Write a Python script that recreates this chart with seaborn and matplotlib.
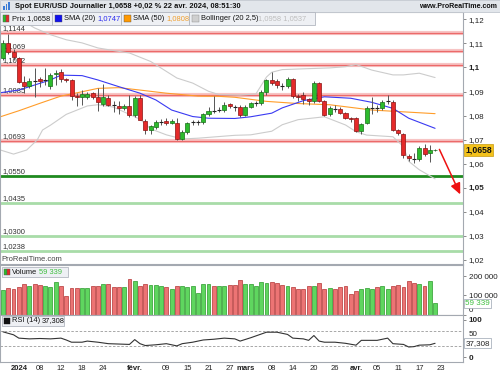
import numpy as np
import matplotlib
matplotlib.use("Agg")
import matplotlib.pyplot as plt
from matplotlib.patches import Rectangle
import seaborn as sns

# --- daily EUR/USD candles, 27 Dec 2023 -> 22 Apr 2024 (business days, 1 Jan skipped)
first_day = '2023-12-27'
holidays = ['2024-01-01']

opens = [1.1039, 1.1101, 1.1064, 1.1038, 1.0940, 1.0922, 1.0944, 1.0950, 1.0945, 1.0922,
         1.0972, 1.0980, 1.0950, 1.0946, 1.0882, 1.0877, 1.0877, 1.0892, 1.0878, 1.0848,
         1.0875, 1.0846, 1.0841, 1.0832, 1.0841, 1.0801, 1.0873, 1.0779, 1.0739, 1.0753,
         1.0772, 1.0779, 1.0771, 1.0769, 1.0704, 1.0730, 1.0771, 1.0772, 1.0772, 1.0807,
         1.0822, 1.0823, 1.0822, 1.0848, 1.0838, 1.0836, 1.0801, 1.0836, 1.0852, 1.0852,
         1.0897, 1.0947, 1.0942, 1.0925, 1.0922, 1.0952, 1.0880, 1.0887, 1.0869, 1.0859,
         1.0935, 1.0860, 1.0805, 1.0827, 1.0826, 1.0809, 1.0791, 1.0789, 1.0736, 1.0768,
         1.0830, 1.0831, 1.0833, 1.0858, 1.0858, 1.0740, 1.0724, 1.0633, 1.0622, 1.0620,
         1.0667, 1.0643, 1.0655]
closes = [1.1101, 1.1064, 1.1042, 1.0940, 1.0922, 1.0944, 1.0942, 1.0944, 1.0947, 1.0970,
          1.0978, 1.0950, 1.0946, 1.0880, 1.0879, 1.0890, 1.0891, 1.0878, 1.0855, 1.0878,
          1.0845, 1.0845, 1.0832, 1.0841, 1.0801, 1.0873, 1.0783, 1.0739, 1.0756, 1.0772,
          1.0773, 1.0771, 1.0779, 1.0704, 1.0730, 1.0769, 1.0772, 1.0773, 1.0807, 1.0818,
          1.0821, 1.0824, 1.0845, 1.0839, 1.0837, 1.0801, 1.0836, 1.0852, 1.0853, 1.0897,
          1.0947, 1.0935, 1.0928, 1.0924, 1.0952, 1.0880, 1.0877, 1.0869, 1.0859, 1.0935,
          1.0860, 1.0802, 1.0833, 1.0826, 1.0809, 1.0791, 1.0785, 1.0736, 1.0764, 1.0833,
          1.0831, 1.0830, 1.0858, 1.0859, 1.0740, 1.0726, 1.0636, 1.0622, 1.0621, 1.0667,
          1.0639, 1.0655, 1.0658]
highs = [1.1112, 1.1139, 1.1078, 1.1045, 1.0965, 1.0955, 1.0998, 1.0962, 1.0998, 1.0978,
         1.0990, 1.0995, 1.0955, 1.0950, 1.0893, 1.0905, 1.0900, 1.0898, 1.0913, 1.0931,
         1.0885, 1.0860, 1.0862, 1.0850, 1.0887, 1.0880, 1.0885, 1.0785, 1.0760, 1.0780,
         1.0785, 1.0790, 1.0785, 1.0790, 1.0740, 1.0775, 1.0783, 1.0782, 1.0810, 1.0835,
         1.0883, 1.0835, 1.0855, 1.0852, 1.0845, 1.0845, 1.0842, 1.0858, 1.0862, 1.0905,
         1.0952, 1.0980, 1.0950, 1.0935, 1.0962, 1.0955, 1.0888, 1.0897, 1.0872, 1.0942,
         1.0940, 1.0865, 1.0840, 1.0845, 1.0835, 1.0815, 1.0795, 1.0795, 1.0768, 1.0838,
         1.0876, 1.0845, 1.0865, 1.0885, 1.0863, 1.0745, 1.0728, 1.0640, 1.0645, 1.0675,
         1.0680, 1.0678, 1.0662]
lows = [1.1030, 1.1055, 1.1032, 1.0935, 1.0893, 1.0915, 1.0877, 1.0918, 1.0927, 1.0910,
        1.0925, 1.0940, 1.0940, 1.0865, 1.0840, 1.0845, 1.0870, 1.0870, 1.0820, 1.0840,
        1.0838, 1.0816, 1.0805, 1.0825, 1.0795, 1.0795, 1.0780, 1.0723, 1.0725, 1.0745,
        1.0760, 1.0762, 1.0765, 1.0697, 1.0697, 1.0725, 1.0760, 1.0760, 1.0765, 1.0800,
        1.0812, 1.0815, 1.0815, 1.0830, 1.0820, 1.0795, 1.0797, 1.0830, 1.0840, 1.0845,
        1.0885, 1.0925, 1.0915, 1.0905, 1.0915, 1.0875, 1.0862, 1.0850, 1.0845, 1.0852,
        1.0855, 1.0800, 1.0800, 1.0815, 1.0805, 1.0785, 1.0775, 1.0730, 1.0725, 1.0765,
        1.0808, 1.0815, 1.0825, 1.0850, 1.0735, 1.0720, 1.0622, 1.0610, 1.0601, 1.0612,
        1.0632, 1.0608, 1.0652]
volumes = [129000, 138000, 134000, 146000, 159000, 150000, 160000, 155000, 150000, 143000,
           169000, 150000, 99000, 141000, 138000, 138000, 138000, 150000, 150000, 160000,
           160000, 143000, 143000, 143000, 187000, 176000, 152000, 160000, 155000, 155000,
           150000, 143000, 134000, 150000, 150000, 143000, 150000, 111000, 160000, 160000,
           152000, 152000, 152000, 155000, 155000, 180000, 160000, 159000, 152000, 169000,
           167000, 169000, 164000, 155000, 152000, 143000, 134000, 134000, 152000, 150000,
           164000, 134000, 138000, 134000, 143000, 152000, 108000, 125000, 132000, 138000,
           134000, 143000, 150000, 134000, 152000, 155000, 143000, 176000, 167000, 160000,
           150000, 176000, 59339]

# indicator lines (day index, value)
sma20_idx = [-0.5, 3, 9, 11, 15, 18, 22, 26, 29, 32, 36, 39, 44, 47, 51, 53, 57, 61, 66, 70, 74, 77, 82]
sma20_val = [1.0895, 1.0906, 1.0948, 1.0968, 1.0966, 1.0948, 1.0920, 1.0893, 1.0865, 1.0823, 1.0796, 1.0789,
             1.0788, 1.0795, 1.0810, 1.0832, 1.0862, 1.0878, 1.0872, 1.0855, 1.0830, 1.0789, 1.0747]
sma50_idx = [-0.5, 3, 7, 11, 15, 18, 22, 26, 31, 37, 41, 44, 50, 56, 62, 70, 82]
sma50_val = [1.0795, 1.0820, 1.0851, 1.0881, 1.0899, 1.0913, 1.0916, 1.0906, 1.0893, 1.0881, 1.0880,
             1.0876, 1.0859, 1.0850, 1.0845, 1.0823, 1.0808]
boll_up_idx = [2, 4, 6, 9, 12, 15, 18, 21, 24, 28, 33, 36, 39, 41, 45, 48, 50, 51, 53, 58, 62, 65, 67,
               70, 74, 76, 79, 82]
boll_up_val = [1.1225, 1.1190, 1.1164, 1.1136, 1.1115, 1.1102, 1.1081, 1.1070, 1.1060, 1.1025, 1.0956,
               1.0935, 1.0901, 1.0887, 1.0885, 1.0890, 1.0960, 1.0980, 1.0991, 1.0995, 1.0998, 1.1003,
               1.1012, 1.0989, 1.0969, 1.0969, 1.0976, 1.0958]
boll_lo_idx = [-0.5, 2, 4.5, 6.5, 7.5, 9, 12, 16, 18, 21, 23, 26, 28, 31, 34, 37, 44, 47, 51, 53, 56, 61,
               65, 67, 69, 74, 76, 77, 79, 82]
boll_lo_val = [1.0657, 1.0640, 1.0657, 1.0699, 1.0740, 1.0760, 1.0805, 1.0840, 1.0845, 1.0835, 1.0815,
               1.0785, 1.0745, 1.0720, 1.0703, 1.0706, 1.0718, 1.0720, 1.0735, 1.0762, 1.0783, 1.0795,
               1.0761, 1.0733, 1.0719, 1.0712, 1.0671, 1.0610, 1.0575, 1.0537]
rsi_idx = [0, 1, 2, 3, 5, 7, 9, 11, 12, 13, 15, 16, 18, 20, 22, 24, 25, 26, 27, 29, 31, 33, 34, 36, 38,
           40, 42, 44, 45, 47, 50, 52, 54, 55, 57, 58, 59, 60, 61, 63, 65, 67, 68, 71, 73, 74, 76, 77,
           78, 79, 81, 82]
rsi_val = [68, 64, 60, 51, 49, 50, 49, 51, 46, 40, 40, 43, 40, 36, 35, 34, 47, 36, 31, 33, 36, 30, 36,
           40, 46, 48, 51, 49, 43, 52, 67, 67, 61, 51, 49, 45, 58, 43, 40, 40, 37, 32, 45, 45, 51, 36,
           34, 27, 28, 32, 33, 37]

red_levels = [1.1144, 1.1069, 1.1012, 1.0885, 1.0693]
green_levels = [1.0550, 1.0435, 1.0300, 1.0238]

price_ticks = [1.02, 1.03, 1.04, 1.05, 1.06, 1.07, 1.08, 1.09, 1.10, 1.11, 1.12]
volume_ticks = [0, 100000, 200000]
volume_tick_labels = ['0', '100 000', '200 000']
rsi_ticks = [0, 50, 100]

tick_dates = ['2024-01-02', '2024-01-08', '2024-01-12', '2024-01-18', '2024-01-24', '2024-02-01',
              '2024-02-09', '2024-02-15', '2024-02-21', '2024-02-27', '2024-03-01', '2024-03-08',
              '2024-03-14', '2024-03-20', '2024-03-26', '2024-04-01', '2024-04-05', '2024-04-11',
              '2024-04-17', '2024-04-23']
tick_labels = ['2024', '08', '12', '18', '24', 'févr.', '09', '15', '21', '27', 'mars', '08', '14',
               '20', '26', 'avr.', '05', '11', '17', '23']
bold_labels = ['2024', 'févr.', 'mars', 'avr.']

# projected move drawn on the chart
arrow_from = (82.6, 1.0670)
arrow_to = (87.0, 1.0462)

sns.set_theme(style="white")
plt.rcParams['font.family'] = ['Liberation Sans', 'DejaVu Sans']

W, H = 500, 375
fig = plt.figure(figsize=(5, 3.75), dpi=100)
fig.patch.set_facecolor('white')


def rect(x0, y0, x1, y1):
    return [x0 / W, 1 - y1 / H, (x1 - x0) / W, (y1 - y0) / H]


def box(x0, y0, x1, y1, fc='#eef0f4', ec='#b2b7c0', lw=0.6, z=4):
    fig.add_artist(Rectangle((x0 / W, 1 - y1 / H), (x1 - x0) / W, (y1 - y0) / H,
                             transform=fig.transFigure, facecolor=fc, edgecolor=ec, lw=lw, zorder=z))


def label(x, y, s, size=5.4, **kw):
    fig.text(x / W, 1 - y / H, s, va='center', fontsize=size, zorder=6, **kw)


ax_p = fig.add_axes(rect(0, 12, 463, 264))
ax_v = fig.add_axes(rect(0, 265, 463, 314.5), sharex=ax_p)
ax_r = fig.add_axes(rect(0, 315, 463, 362), sharex=ax_p)

n = len(closes)
x = np.arange(n)
o = np.array(opens)
c = np.array(closes)
up = c >= o

# --- price panel
for lv in red_levels:
    ax_p.axhline(lv, color='#f7c4c4', lw=3, zorder=1)
    ax_p.axhline(lv, color='#ec6a6a', lw=0.9, zorder=1)
for k, lv in enumerate(green_levels):
    if k == 0:
        ax_p.axhline(lv, color='#1f8a1f', lw=2, zorder=1)
    else:
        ax_p.axhline(lv, color='#a8dca8', lw=2, zorder=1)
ytr = ax_p.get_yaxis_transform()
for lv in red_levels + green_levels:
    ax_p.text(0.005, lv + 0.0004, f"{lv:.4f}".replace('.', ','), transform=ytr,
              fontsize=5.4, color='#333333', va='bottom', ha='left', zorder=1.5)

sns.lineplot(x=boll_up_idx, y=boll_up_val, ax=ax_p, color='#cccccc', lw=0.8, sort=False, estimator=None, zorder=2)
sns.lineplot(x=boll_lo_idx, y=boll_lo_val, ax=ax_p, color='#cccccc', lw=0.8, sort=False, estimator=None, zorder=2)
sns.lineplot(x=sma50_idx, y=sma50_val, ax=ax_p, color='#ff9d2a', lw=0.8, sort=False, estimator=None, zorder=2)
sns.lineplot(x=sma20_idx, y=sma20_val, ax=ax_p, color='#3a3af2', lw=0.8, sort=False, estimator=None, zorder=2)

ax_p.vlines(x, lows, highs, color='#555555', lw=0.7, zorder=3)
doji = np.abs(c - o) < 0.00025
body = ~doji
ax_p.bar(x[body], np.abs(c - o)[body], bottom=np.minimum(o, c)[body], width=0.76,
         color=np.where(up[body], '#2dbb2d', '#e52a2a'),
         edgecolor=np.where(up[body], '#176f17', '#8a1212'), lw=0.5, zorder=4)
ax_p.hlines(c[doji], x[doji] - 0.38, x[doji] + 0.38, color='#222222', lw=0.8, zorder=4)

ax_p.annotate('', xy=arrow_to, xytext=arrow_from, annotation_clip=False, zorder=5,
              arrowprops=dict(arrowstyle='-|>,head_length=0.55,head_width=0.25', color='#ee1111', lw=1.1))

ax_p.set_xlim(-0.57, 87.3)
ax_p.set_ylim(1.01834, 1.12303)
ax_p.yaxis.tick_right()
ax_p.set_yticks(price_ticks)
ax_p.set_yticklabels([f"{t:.2f}".rstrip('0').replace('.', ',') for t in price_ticks])
for t, lab in zip(price_ticks, ax_p.get_yticklabels()):
    if abs(t - 1.10) < 1e-9 or abs(t - 1.05) < 1e-9:
        lab.set_fontweight('bold')
ax_p.text(1.005, closes[-1], f"{closes[-1]:.4f}".replace('.', ','), transform=ax_p.get_yaxis_transform(),
          fontsize=6.2, fontweight='bold', va='center', ha='left', color='#111111',
          bbox=dict(boxstyle='square,pad=0.15', fc='#f3c21c', ec='#c89a10', lw=0.5), clip_on=False)
ax_p.text(0.004, 0.004, 'ProRealTime.com', transform=ax_p.transAxes, fontsize=5.5,
          color='#444444', va='bottom', ha='left')

# --- volume panel
ax_v.bar(x, volumes, width=0.74, color=np.where(up, '#5fd65f', '#ec7474'),
         edgecolor=np.where(up, '#2a9a2a', '#b43434'), lw=0.5)
ax_v.set_ylim(0, 260500)
ax_v.yaxis.tick_right()
ax_v.set_yticks(volume_ticks)
ax_v.set_yticklabels(volume_tick_labels)
ax_v.get_yticklabels()[0].set_va('bottom')
ax_v.text(1.005, volumes[-1], f"{volumes[-1]:,}".replace(',', ' '), transform=ax_v.get_yaxis_transform(),
          fontsize=5.8, color='#3fbf3f', va='center', ha='left',
          bbox=dict(boxstyle='square,pad=0.15', fc='white', ec='#9aa4b0', lw=0.5), clip_on=False)

# --- RSI panel
ax_r.axhline(70, color='#9a9a9a', lw=0.6, ls=(0, (3, 2)))
ax_r.axhline(30, color='#9a9a9a', lw=0.6, ls=(0, (3, 2)))
sns.lineplot(x=rsi_idx, y=rsi_val, ax=ax_r, color='#333333', lw=0.8, sort=False, estimator=None)
ax_r.set_ylim(-13.5, 113.5)
ax_r.yaxis.tick_right()
ax_r.set_yticks(rsi_ticks)
ax_r.set_yticklabels([str(t) for t in rsi_ticks])
for t, lab in zip(rsi_ticks, ax_r.get_yticklabels()):
    if t != 50:
        lab.set_fontweight('bold')
    else:
        lab.set_va('bottom')
ax_r.text(1.005, rsi_val[-1] + 0.308, '37,308', transform=ax_r.get_yaxis_transform(),
          fontsize=5.8, color='#222222', va='center', ha='left', zorder=6,
          bbox=dict(boxstyle='square,pad=0.15', fc='white', ec='#9aa4b0', lw=0.5), clip_on=False)

tick_pos = np.busday_count(first_day, tick_dates, holidays=holidays)
ax_r.set_xticks(tick_pos)
ax_r.set_xticklabels(tick_labels)
for lab in ax_r.get_xticklabels():
    if lab.get_text() in bold_labels:
        lab.set_fontweight('bold')

for ax in (ax_p, ax_v, ax_r):
    ax.set_facecolor('white')
    ax.set_xlabel('')
    ax.set_ylabel('')
    for sp in ax.spines.values():
        sp.set_color('#a4a9b1')
        sp.set_linewidth(0.8)
    ax.tick_params(axis='y', which='both', right=True, length=2, width=0.6, pad=2,
                   labelsize=5.8, colors='#777777', labelcolor='#222222')
    ax.tick_params(axis='x', length=0, pad=2.5, labelsize=5.5, labelcolor='#222222')
ax_p.tick_params(axis='x', labelbottom=False)
ax_v.tick_params(axis='x', labelbottom=False)

# --- title bar
box(0, 0, 500, 12, fc='#e2e6eb', ec='#c2c7cf', lw=0.6, z=3)
for bx, bh in [(3, 4), (5.5, 6), (8, 8)]:
    box(bx, 10 - bh, bx + 1.6, 10, fc='#3a7bd5', ec='none', lw=0, z=5)
label(15, 6.3, 'Spot EUR/USD Journalier 1,0658 +0,02 % 22 avr. 2024, 08:51:30',
      weight='bold', color='#111111')
label(497, 6.3, 'www.ProRealTime.com', size=5.1, weight='bold', color='#111111', ha='right')

# --- legend boxes
box(0, 12, 52, 24.5)
box(3, 14.8, 6, 21.8, fc='#2dbb2d', ec='#555555', lw=0.3, z=5)
box(6, 14.8, 9, 21.8, fc='#e52a2a', ec='#555555', lw=0.3, z=5)
label(12, 18.6, 'Prix 1,0658', color='#111111')
box(52, 12, 121, 24.5)
box(55, 14.8, 62, 21.8, fc='#1010ee', ec='#555555', lw=0.3, z=5)
label(64, 18.6, 'SMA (20)', color='#111111')
label(97, 18.6, '1,0747', color='#2a2aee')
box(121, 12, 189, 24.5)
box(124, 14.8, 131, 21.8, fc='#ff9900', ec='#555555', lw=0.3, z=5)
label(133, 18.6, 'SMA (50)', color='#111111')
label(166, 18.6, '1,0808', color='#f0a030')
box(189, 12, 315, 24.5)
box(192, 14.8, 199, 21.8, fc='#cfcfcf', ec='#888888', lw=0.3, z=5)
label(201, 18.6, 'Bollinger (20 2,5)', color='#111111')
label(258, 18.6, '1,0958 1,0537', color='#bdbdbd')

box(2, 266.5, 68, 277)
box(4, 268.8, 7, 275, fc='#2dbb2d', ec='#555555', lw=0.3, z=5)
box(7, 268.8, 10, 275, fc='#e52a2a', ec='#555555', lw=0.3, z=5)
label(12, 272, 'Volume', color='#111111')
label(39, 272, '59 339', color='#3fbf3f')

box(2, 316, 64, 326)
box(4, 318, 10, 324, fc='#111111', ec='#111111', lw=0.3, z=5)
label(12, 321, 'RSI (14)', color='#111111')
label(42, 321, '37,308', color='#111111')

fig.savefig('out.png', dpi=100, facecolor='white')
